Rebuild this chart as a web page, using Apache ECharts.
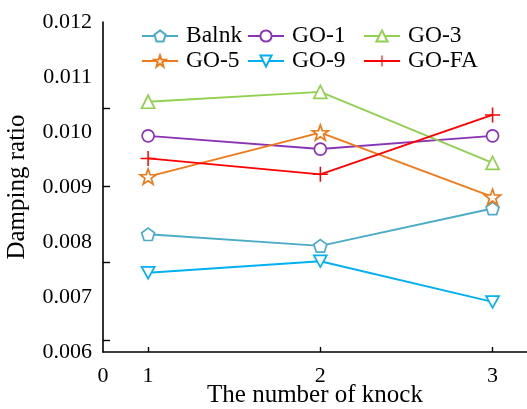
<!DOCTYPE html>
<html>
<head>
<meta charset="utf-8">
<script src="https://cdn.jsdelivr.net/npm/echarts@6/dist/echarts.min.js"></script>
<style>
  html, body { margin: 0; padding: 0; background: #fff; }
  #chart { width: 527px; height: 409px; }
</style>
</head>
<body>
<div id="chart"></div>
<script>
// Knock count on the x axis, damping ratio for each sample
const knocks = [1, 2, 3];
const balnk = [0.00814, 0.00793, 0.00861];
const go1   = [0.00993, 0.00969, 0.00993];
const go3   = [0.01055, 0.01073, 0.00944];
const go5   = [0.00919, 0.00999, 0.00882];
const go9   = [0.00744, 0.00765, 0.00691];
const goFA  = [0.00952, 0.00923, 0.01031];

const xTickLabels = ['0', '1', '2', '3'];
const yTickLabels = ['0.006', '0.007', '0.008', '0.009', '0.010', '0.011', '0.012'];
const yTickMarks = [0.00622, 0.00764, 0.00902, 0.01044];

const X_MIN = 0.738, X_MAX = 3.2;
const FONT = '"Liberation Serif", "Times New Roman", serif';

const pentagon = 'path://M0,-10 L9.51,-3.09 L5.88,8.09 L-5.88,8.09 L-9.51,-3.09 Z';
const star = 'path://M0,-10 L2.35,-3.24 L9.51,-3.09 L3.8,1.24 L5.88,8.09 L0,4 L-5.88,8.09 L-3.8,1.24 L-9.51,-3.09 L-2.35,-3.24 Z';
const plus = 'path://M-1,-10 L1,-10 L1,-1 L10,-1 L10,1 L1,1 L1,10 L-1,10 L-1,1 L-10,1 L-10,-1 L-1,-1 Z';

function makeSeries(name, values, color, symbol, size, filled) {
  return {
    name: name,
    type: 'line',
    data: knocks.map((k, i) => [k, values[i]]),
    symbol: symbol,
    symbolSize: size,
    symbolKeepAspect: true,
    showAllSymbol: true,
    lineStyle: { color: color, width: 1.9 },
    itemStyle: filled
      ? { color: color, borderWidth: 0 }
      : { color: '#fff', borderColor: color, borderWidth: 1.7 },
    emphasis: { disabled: true },
    z: 3
  };
}

const series = [
  makeSeries('Balnk', balnk, '#4bacc6', pentagon, 13, false),
  makeSeries('GO-1', go1, '#8a34b4', 'circle', 12, false),
  makeSeries('GO-3', go3, '#92d050', 'triangle', 13, false),
  makeSeries('GO-5', go5, '#f07a1a', star, 16, false),
  makeSeries('GO-9', go9, '#00b0f0', 'path://M-10,-8 L10,-8 L0,10 Z', 13, false),
  makeSeries('GO-FA', goFA, '#ff0000', plus, 15, true)
];

const legendBase = {
  orient: 'vertical',
  top: 24,
  itemWidth: 36,
  itemHeight: 14,
  itemGap: 1,
  textStyle: { fontFamily: FONT, fontSize: 23.5, color: '#000', padding: [0, 0, 0, 3] },
  padding: 0,
  selectedMode: false
};

const chart = echarts.init(document.getElementById('chart'), null, { renderer: 'canvas' });
chart.setOption({
  animation: false,
  backgroundColor: '#fff',
  grid: { left: 103, top: 22, right: 0, bottom: 57, containLabel: false, outerBoundsMode: 'none' },
  legend: [
    Object.assign({}, legendBase, { left: 141, data: ['Balnk', 'GO-5'] }),
    Object.assign({}, legendBase, { left: 247, data: ['GO-1', 'GO-9'] }),
    Object.assign({}, legendBase, { left: 363, data: ['GO-3', 'GO-FA'] })
  ],
  xAxis: {
    type: 'value',
    min: X_MIN,
    max: X_MAX,
    name: 'The number of knock',
    nameLocation: 'middle',
    nameGap: 31,
    nameMoveOverlap: false,
    nameTextStyle: { fontFamily: FONT, fontSize: 25, color: '#000' },
    axisLine: { onZero: false, lineStyle: { color: '#000', width: 1.6 } },
    axisTick: { inside: true, length: 5, customValues: knocks, lineStyle: { color: '#000', width: 1.4 } },
    axisLabel: {
      customValues: [X_MIN].concat(knocks),
      formatter: v => (v < 1 ? xTickLabels[0] : xTickLabels[Math.round(v)]),
      fontFamily: FONT, fontSize: 22, color: '#000', margin: 13
    },
    splitLine: { show: false }
  },
  yAxis: {
    type: 'value',
    min: 0.006,
    max: 0.012,
    interval: 0.001,
    name: 'Damping ratio',
    nameLocation: 'middle',
    nameGap: 73,
    nameMoveOverlap: false,
    nameRotate: 90,
    nameTextStyle: { fontFamily: FONT, fontSize: 25, color: '#000' },
    axisLine: { show: true, onZero: false, lineStyle: { color: '#000', width: 1.6 } },
    axisTick: { inside: true, length: 7, customValues: yTickMarks, lineStyle: { color: '#000', width: 1.4 } },
    axisLabel: {
      formatter: v => yTickLabels[Math.round((v - 0.006) / 0.001)],
      fontFamily: FONT, fontSize: 22, color: '#000', margin: 11
    },
    splitLine: { show: false }
  },
  series: series
});
</script>
</body>
</html>
